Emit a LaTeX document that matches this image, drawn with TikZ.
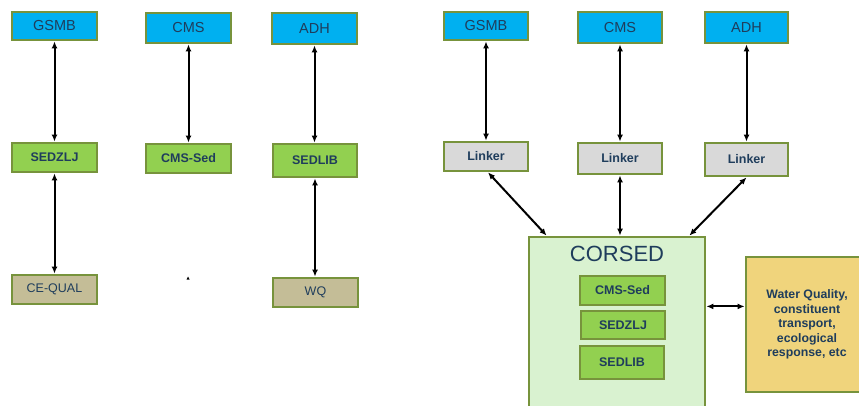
\documentclass[tikz,border=0pt]{standalone}
\usepackage{fontspec}
\setmainfont{Liberation Sans}
\usetikzlibrary{arrows.meta}
\definecolor{bxblue}{HTML}{00B0F0}
\definecolor{bxgreen}{HTML}{92D050}
\definecolor{bxborder}{HTML}{77933C}
\definecolor{bxtan}{HTML}{C4BD97}
\definecolor{bxgray}{HTML}{D9D9D9}
\definecolor{bxlight}{HTML}{D9F2D0}
\definecolor{bxyellow}{HTML}{F0D47C}
\definecolor{txnavy}{HTML}{1F3D5C}
\tikzset{
  box/.style={draw=bxborder, line width=2.8pt, inner sep=0pt, text=txnavy, align=center},
  topbox/.style={box, fill=bxblue, font=\fontsize{14.5}{16}\selectfont},
  modbox/.style={box, fill=bxgreen, font=\fontsize{12.5}{14}\selectfont\bfseries},
  wqbox/.style={box, fill=bxtan, font=\fontsize{12.5}{14}\selectfont},
  linkbox/.style={box, fill=bxgray, font=\fontsize{12.5}{14}\selectfont\bfseries},
  arr/.style={{Latex[length=7pt,width=6pt]}-{Latex[length=7pt,width=6pt]}, line width=2pt, black},
}
\begin{document}
\begin{tikzpicture}[x=1pt,y=-1pt]
\path[use as bounding box] (0,0) rectangle (859,406);
\clip (0,0) rectangle (859,406);
% left part
\node[topbox, minimum width=85pt, minimum height=28pt] (gsmbL) at (54.5,26) {GSMB};
\node[topbox, minimum width=85pt, minimum height=30pt] (cmsL) at (188.5,28) {CMS};
\node[topbox, minimum width=85pt, minimum height=31pt] (adhL) at (314.5,28.5) {ADH};
\node[modbox, minimum width=85pt, minimum height=29pt] (sedzljL) at (54.5,157.5) {SEDZLJ};
\node[modbox, minimum width=85pt, minimum height=29pt] (cmssedL) at (188.5,158.5) {CMS-Sed};
\node[modbox, minimum width=84pt, minimum height=33pt] (sedlibL) at (315,160.5) {SEDLIB};
\node[wqbox, minimum width=85pt, minimum height=29pt] (cequal) at (54.5,289.5) {CE-QUAL};
\node[wqbox, minimum width=85pt, minimum height=29pt] (wqL) at (315.5,292.5) {WQ};
\fill (186.5,279.5) -- (189.5,279.5) -- (188,276.5) -- cycle;
\draw[arr] (gsmbL) -- (sedzljL);
\draw[arr] (cmsL) -- (cmssedL);
\draw[arr] (adhL) -- (adhL |- sedlibL.north);
\draw[arr] (sedzljL) -- (cequal);
\draw[arr] (sedlibL) -- (sedlibL |- wqL.north);
% right part
\node[topbox, minimum width=84pt, minimum height=28pt] (gsmbR) at (486,26) {GSMB};
\node[topbox, minimum width=84pt, minimum height=31pt] (cmsR) at (620,27.5) {CMS};
\node[topbox, minimum width=83pt, minimum height=31pt] (adhR) at (746.5,27.5) {ADH};
\node[linkbox, minimum width=84pt, minimum height=29pt] (lk1) at (486,156.5) {Linker};
\node[linkbox, minimum width=84pt, minimum height=31pt] (lk2) at (620,158.5) {Linker};
\node[linkbox, minimum width=83pt, minimum height=33pt] (lk3) at (746.5,159.5) {Linker};
\node[box, fill=bxlight, minimum width=176pt, minimum height=183pt] (corsed) at (617,328.5) {};
\node[text=txnavy, font=\fontsize{22}{24}\selectfont, inner sep=0pt] (corsedtitle) at (617,254) {CORSED};
\node[modbox, minimum width=85pt, minimum height=29pt] (cmssedR) at (622.5,290.5) {CMS-Sed};
\node[modbox, minimum width=84pt, minimum height=28pt] (sedzljR) at (623,325) {SEDZLJ};
\node[modbox, minimum width=84pt, minimum height=33pt] (sedlibR) at (622,362.5) {SEDLIB};
\node[box, fill=bxyellow, minimum width=124pt, minimum height=135pt] (wqR) at (808,324.5) {};
\node[text=txnavy, font=\fontsize{12.3}{14.6}\selectfont\bfseries, align=center, inner sep=0pt] (wqtext) at (807,324.5) {Water Quality,\\constituent\\transport,\\ecological\\response, etc};
\draw[arr] (gsmbR) -- (lk1);
\draw[arr] (cmsR) -- (lk2);
\draw[arr] (adhR) -- (lk3);
\draw[arr] ([xshift=2pt]lk1.south) -- ([xshift=19pt]corsed.north west);
\draw[arr] (lk2.south) -- (lk2.south |- corsed.north);
\draw[arr] (lk3.south) -- ([xshift=-17pt]corsed.north east);
\draw[arr] (corsed.east |- cmssedR.south) -- (wqR.west |- cmssedR.south);
\end{tikzpicture}
\end{document}
